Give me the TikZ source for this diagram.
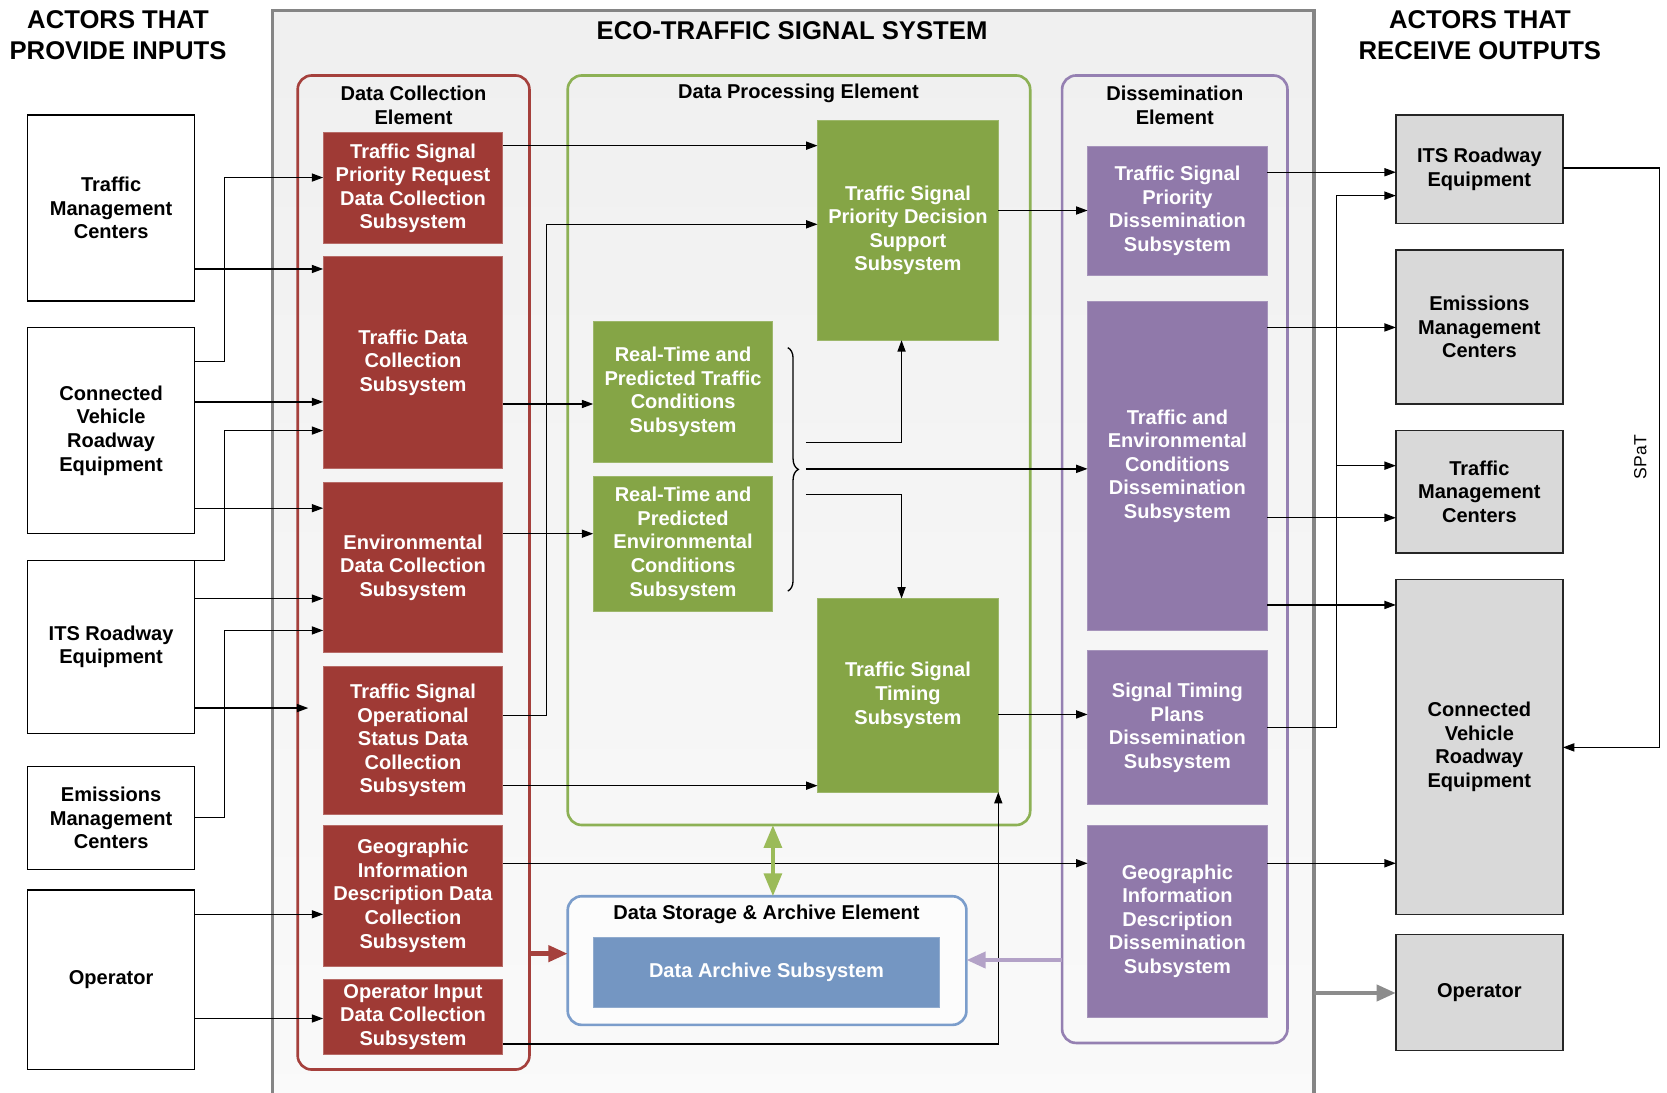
\documentclass[tikz,border=0pt]{standalone}
\usepackage{fontspec}
\setmainfont{Liberation Sans}
\usetikzlibrary{arrows.meta,decorations.pathreplacing}
\definecolor{sysgray}{HTML}{858585}
\definecolor{dcered}{HTML}{A5403C}
\definecolor{dpegreen}{HTML}{8DB155}
\definecolor{dsepurple}{HTML}{9580B2}
\definecolor{dsablue}{HTML}{7B9DCB}
\definecolor{redfill}{HTML}{9F3A35}
\definecolor{greenfill}{HTML}{85A546}
\definecolor{purplefill}{HTML}{9079AA}
\definecolor{bluefill}{HTML}{7496C2}
\definecolor{grayfill}{HTML}{D9D9D9}
\definecolor{arrgreen}{HTML}{9BBB59}
\definecolor{arrpurple}{HTML}{B3A2C7}
\definecolor{arrgray}{HTML}{8C8C8C}
\newcommand\myfont{\fontsize{11.4}{13.4}\selectfont\bfseries}
\newcommand\mytitlefont{\fontsize{14.6}{18}\selectfont\bfseries}
\newcommand\bx[7]{\node[#6, minimum width={(#4-#2)*0.021263cm}, minimum height={(#5-#3)*0.021263cm}] (#1) at ({(#2+#4)/2},{(#3+#5)/2}) {#7};}
\begin{document}
\begin{tikzpicture}[x=0.021263cm, y=-0.021263cm,
  every node/.style={inner sep=0pt, outer sep=0pt, font=\myfont, align=center},
  elem/.style={rectangle, rounded corners=0.28cm, line width=1.5pt},
  redbox/.style={rectangle, fill=redfill, draw=redfill!75!white, line width=0.5pt, text=white},
  greenbox/.style={rectangle, fill=greenfill, draw=greenfill!80!white, line width=0.5pt, text=white},
  purplebox/.style={rectangle, fill=purplefill, draw=purplefill!80!white, line width=0.5pt, text=white},
  bluebox/.style={rectangle, fill=bluefill, draw=bluefill!80!white, line width=0.5pt, text=white},
  actorL/.style={rectangle, draw=black, fill=white, line width=0.8pt},
  actorR/.style={rectangle, draw=black!85, fill=grayfill, line width=0.8pt},
  conn/.style={draw=black, line width=0.75pt, -{Triangle[length=6.5pt,width=4.6pt]}},
  thickarr/.style={line width=2.6pt, -{Triangle[length=11pt,width=9pt]}}
]
\useasboundingbox (0,0) rectangle (1568,1028);

% system frame
\bx{sys}{256}{10}{1236}{1050}{draw=sysgray, line width=1.8pt, top color=black!6, bottom color=black!2}{}

% titles
\node[font=\mytitlefont] (tL) at (111,33) {ACTORS THAT\\PROVIDE INPUTS};
\node[font=\mytitlefont] (tC) at (745,29) {ECO-TRAFFIC SIGNAL SYSTEM};
\node[font=\mytitlefont] (tR) at (1392,33) {ACTORS THAT\\RECEIVE OUTPUTS};

% elements
\bx{dce}{280}{71}{498}{1006}{elem, draw=dcered}{}
\bx{dpe}{534}{71}{969}{776}{elem, draw=dpegreen}{}
\bx{dse}{999}{71}{1211}{981}{elem, draw=dsepurple}{}
\bx{dsa}{534}{843}{909}{964}{elem, draw=dsablue, fill=white!60!black!3}{}
\node (hdce) at (389,99) {Data Collection\\Element};
\node (hdpe) at (751,88) {Data Processing Element};
\node (hdse) at (1105,99) {Dissemination\\Element};
\node (hdsa) at (721,860) {Data Storage \& Archive Element};

% left actors
\bx{tmcL}{26}{108}{183}{283}{actorL}{Traffic\\Management\\Centers}
\bx{cvreL}{26}{308}{183}{502}{actorL}{Connected\\Vehicle\\Roadway\\Equipment}
\bx{itsL}{26}{527}{183}{690}{actorL}{ITS Roadway\\Equipment}
\bx{emcL}{26}{721}{183}{818}{actorL}{Emissions\\Management\\Centers}
\bx{opL}{26}{837}{183}{1006}{actorL}{Operator}

% data collection subsystems
\bx{tspr}{304}{125}{473}{229}{redbox}{Traffic Signal\\Priority Request\\Data Collection\\Subsystem}
\bx{tdc}{304}{241}{473}{441}{redbox}{Traffic Data\\Collection\\Subsystem}
\bx{env}{304}{454}{473}{614}{redbox}{Environmental\\Data Collection\\Subsystem}
\bx{tsos}{304}{627}{473}{766}{redbox}{Traffic Signal\\Operational\\Status Data\\Collection\\Subsystem}
\bx{geo}{304}{776}{473}{909}{redbox}{Geographic\\Information\\Description Data\\Collection\\Subsystem}
\bx{opi}{304}{921}{473}{992}{redbox}{Operator Input\\Data Collection\\Subsystem}

% processing subsystems
\bx{tspds}{769}{113}{939}{320}{greenbox}{Traffic Signal\\Priority Decision\\Support\\Subsystem}
\bx{rtt}{558}{302}{727}{435}{greenbox}{Real-Time and\\Predicted Traffic\\Conditions\\Subsystem}
\bx{rte}{558}{448}{727}{575}{greenbox}{Real-Time and\\Predicted\\Environmental\\Conditions\\Subsystem}
\bx{tst}{769}{563}{939}{745}{greenbox}{Traffic Signal\\Timing\\Subsystem}

% archive
\bx{das}{558}{882}{884}{948}{bluebox}{Data Archive Subsystem}

% dissemination subsystems
\bx{tspd}{1023}{138}{1192}{259}{purplebox}{Traffic Signal\\Priority\\Dissemination\\Subsystem}
\bx{ted}{1023}{284}{1192}{593}{purplebox}{Traffic and\\Environmental\\Conditions\\Dissemination\\Subsystem}
\bx{stp}{1023}{612}{1192}{757}{purplebox}{Signal Timing\\Plans\\Dissemination\\Subsystem}
\bx{gid}{1023}{776}{1192}{957}{purplebox}{Geographic\\Information\\Description\\Dissemination\\Subsystem}

% right actors
\bx{itsR}{1313}{108}{1470}{210}{actorR}{ITS Roadway\\Equipment}
\bx{emcR}{1313}{235}{1470}{380}{actorR}{Emissions\\Management\\Centers}
\bx{tmcR}{1313}{405}{1470}{520}{actorR}{Traffic\\Management\\Centers}
\bx{cvreR}{1313}{545}{1470}{860}{actorR}{Connected\\Vehicle\\Roadway\\Equipment}
\bx{opR}{1313}{879}{1470}{988}{actorR}{Operator}

% brace
\draw[line width=0.75pt, decorate, decoration={brace, amplitude=6, aspect=0.5}] (741,327) -- (741,556);
\coordinate (b1) at (758,416);
\coordinate (b2) at (758,441);
\coordinate (b3) at (758,465);
\coordinate (e1) at (290,666);
\coordinate (j1) at (1257,438);

% left connectors
\draw[conn] (cvreL.east |- 0,340) -- (211,340) |- (tspr.west |- 0,167);
\draw[conn] (tmcL.east |- 0,253) -- (tdc.west |- 0,253);
\draw[conn] (cvreL.east |- 0,378) -- (tdc.west |- 0,378);
\draw[conn] (itsL.north east) -- (211,527) |- (tdc.west |- 0,405);
\draw[conn] (cvreL.east |- 0,478) -- (env.west |- 0,478);
\draw[conn] (itsL.east |- 0,563) -- (env.west |- 0,563);
\draw[conn] (emcL.east |- 0,769) -- (211,769) |- (env.west |- 0,593);
\draw[conn] (itsL.east |- 0,666) -- (e1);
\draw[conn] (opL.east |- 0,860) -- (geo.west |- 0,860);
\draw[conn] (opL.east |- 0,958) -- (opi.west |- 0,958);

% middle connectors
\draw[conn] (tspr.east |- 0,137) -- (tspds.west |- 0,137);
\draw[conn] (tsos.east |- 0,673) -- (514,673) |- (tspds.west |- 0,211);
\draw[conn] (tdc.east |- 0,380) -- (rtt.west |- 0,380);
\draw[conn] (env.east |- 0,502) -- (rte.west |- 0,502);
\draw[conn] (tsos.east |- 0,739) -- (tst.west |- 0,739);
\draw[conn] (opi.east |- 0,982) -| (tst.south east);
\draw[conn] (geo.east |- 0,812) -- (gid.west |- 0,812);
\draw[conn] (tspds.east |- 0,198) -- (tspd.west |- 0,198);
\draw[conn] (tst.east |- 0,672) -- (stp.west |- 0,672);
\draw[conn] (b1) -| (tspds.south -| 848,0);
\draw[conn] (b2) -- (ted.west |- 0,441);
\draw[conn] (b3) -| (tst.north -| 848,0);

% right connectors
\draw[conn] (tspd.east |- 0,162) -- (itsR.west |- 0,162);
\draw[conn] (stp.east |- 0,684) -- (1257,684) |- (itsR.west |- 0,184);
\draw[conn] (j1) -- (tmcR.west |- 0,438);
\draw[conn] (ted.east |- 0,308) -- (emcR.west |- 0,308);
\draw[conn] (ted.east |- 0,487) -- (tmcR.west |- 0,487);
\draw[conn] (ted.east |- 0,569) -- (cvreR.west |- 0,569);
\draw[conn] (gid.east |- 0,812) -- (cvreR.west |- 0,812);
\draw[conn] (itsR.east |- 0,158) -- (1561,158) |- (cvreR.east |- 0,703);
\node[font=\fontsize{10}{12}\selectfont, rotate=90] (spat) at (1543,430) {SPaT};

% thick arrows
\draw[thickarr, draw=arrgreen, {Triangle[length=13pt,width=10pt]}-{Triangle[length=13pt,width=10pt]}, line width=2.4pt] (dpe.south -| 727,0) -- (dsa.north -| 727,0);
\draw[thickarr, draw=dcered, fill=dcered] (dce.east |- 0,897) -- (dsa.west |- 0,897);
\draw[thickarr, draw=arrpurple, fill=arrpurple] (dse.west |- 0,903) -- (dsa.east |- 0,903);
\draw[thickarr, draw=arrgray, fill=arrgray] (sys.east |- 0,934) -- (opR.west |- 0,934);
\end{tikzpicture}
\end{document}
